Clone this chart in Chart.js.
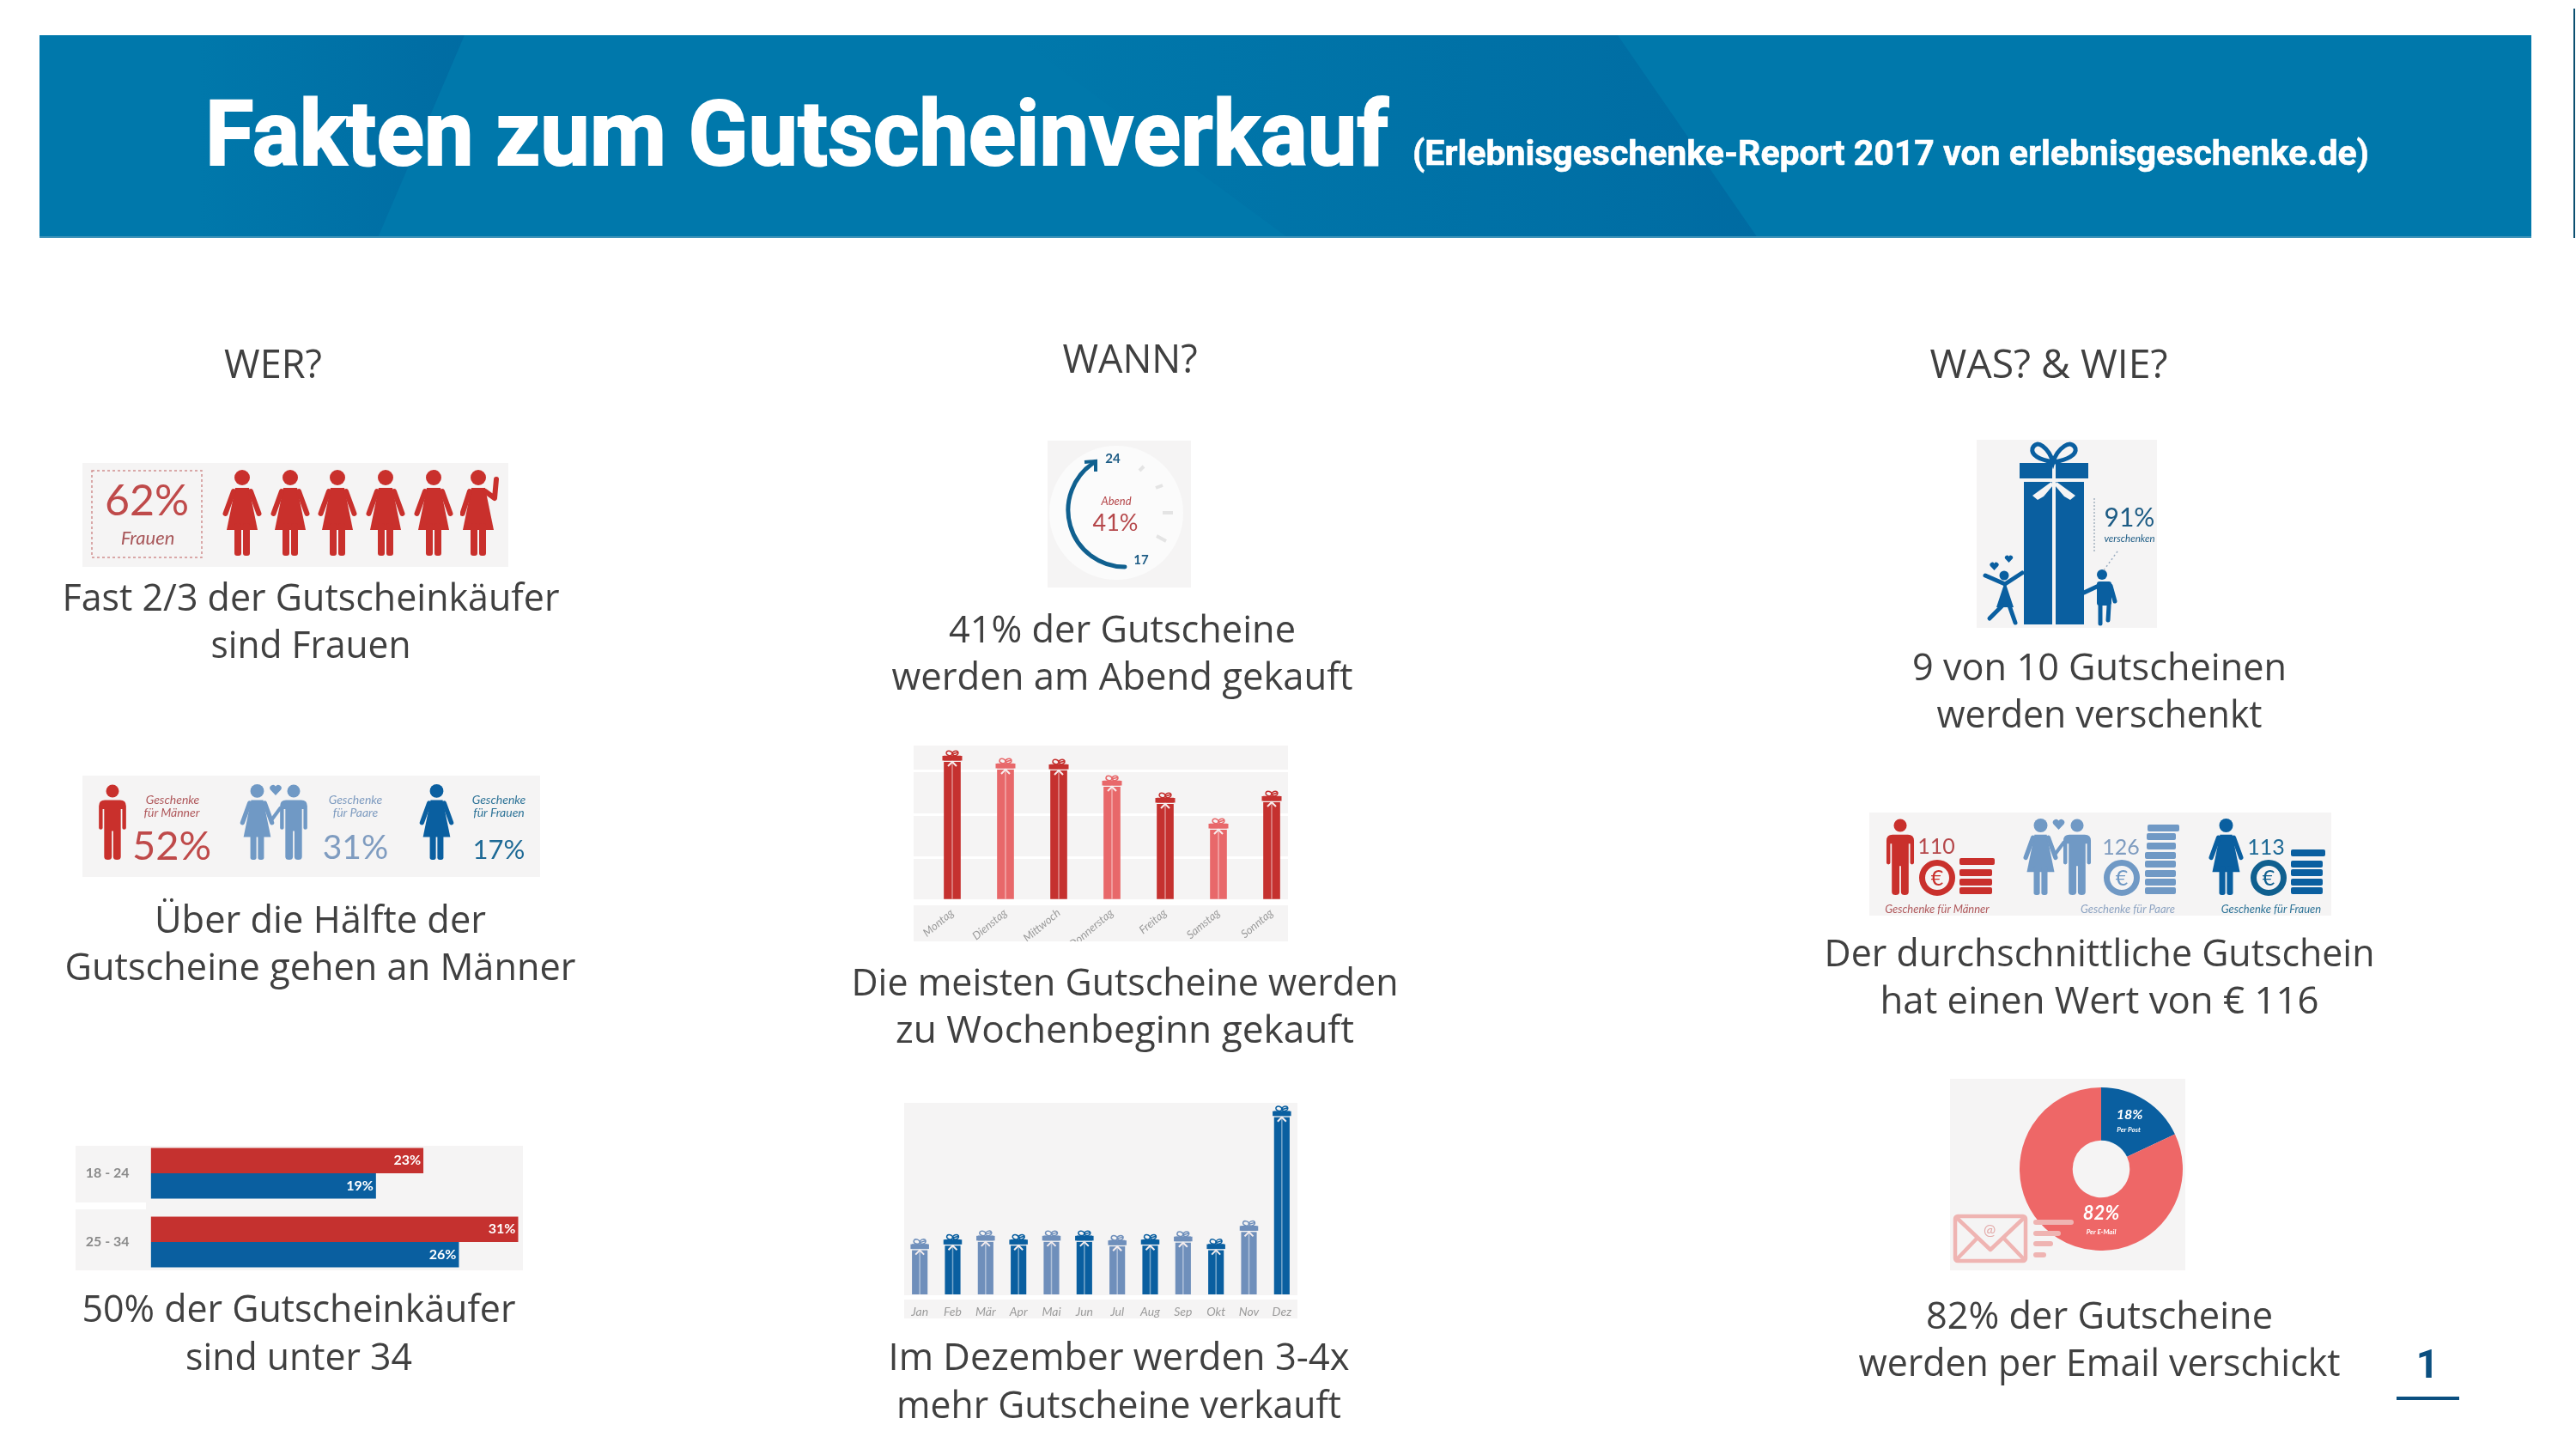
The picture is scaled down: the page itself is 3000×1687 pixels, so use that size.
<!DOCTYPE html>
<html lang="de">
<head>
<meta charset="UTF-8">
<title>Fakten zum Gutscheinverkauf</title>
<script src="https://cdn.jsdelivr.net/npm/chart.js"></script>
<style>
    html, body { margin: 0; padding: 0; background: #fff; }
    body { position: relative; width: 3000px; height: 1687px; overflow: hidden; font-family: "Lato", sans-serif; }
    .panel { position: absolute; background: #f5f4f4; }
    .strip { position: absolute; background: #fff; }
    canvas { position: absolute; }
    #bild { position: absolute; left: 0; top: 0; }
    .cap { font-family: "Open Sans", sans-serif; font-size: 44px; fill: #404040; text-anchor: middle; }
    .head { font-family: "Open Sans", sans-serif; font-size: 45px; fill: #404040; text-anchor: middle; }
    .m { text-anchor: middle; font-family: "Lato", sans-serif; }
    .i { font-style: italic; }
</style>
</head>
<body>
<!-- Hintergrundflaechen der Grafiken -->
<div class="panel" style="left:96px;top:539px;width:496px;height:121px"></div>
<div class="panel" style="left:96px;top:903px;width:533px;height:118px"></div>
<div class="panel" style="left:88px;top:1334px;width:521px;height:145px"></div>
<div class="strip" style="left:88px;top:1400px;width:82px;height:8px"></div>
<div class="panel" style="left:1220px;top:513px;width:167px;height:171px"></div>
<div class="panel" style="left:1064px;top:868px;width:436px;height:228px"></div>
<div class="strip" style="left:1064px;top:1050px;width:436px;height:4px"></div>
<div class="panel" style="left:1053px;top:1284px;width:458px;height:251px"></div>
<div class="strip" style="left:1053px;top:1508px;width:458px;height:5px"></div>
<div class="panel" style="left:2302px;top:512px;width:210px;height:219px"></div>
<div class="panel" style="left:2177px;top:946px;width:538px;height:120px"></div>
<div class="panel" style="left:2271px;top:1256px;width:274px;height:223px"></div>

<canvas id="alter" width="535" height="160" style="left:74px;top:1326px"></canvas>
<canvas id="wochentage" width="448" height="228" style="left:1064px;top:868px"></canvas>
<canvas id="monate" width="460" height="251" style="left:1052px;top:1284px"></canvas>
<canvas id="versand" width="190" height="190" style="left:2352px;top:1266px"></canvas>

<svg id="bild" width="3000" height="1687" viewBox="0 0 3000 1687" xmlns="http://www.w3.org/2000/svg">
    <defs>
        <linearGradient id="schatten1" x1="0" x2="1" y1="0" y2="0">
            <stop offset="0" stop-color="#005a96" stop-opacity="0"/>
            <stop offset="1" stop-color="#005a96" stop-opacity=".4"/>
        </linearGradient>
        <linearGradient id="schatten2" x1="0" x2="1" y1="0" y2="0">
            <stop offset="0" stop-color="#005a96" stop-opacity="0"/>
            <stop offset=".75" stop-color="#005a96" stop-opacity=".28"/>
            <stop offset="1" stop-color="#005a96" stop-opacity=".42"/>
        </linearGradient>
        <symbol id="mann" viewBox="0 0 40 100">
            <circle cx="20" cy="9" r="8.5" fill="currentColor"/>
            <path fill="currentColor" d="M10 21H30Q38 21 38 29V58Q38 60 35.5 60Q33 60 33 58V33H31V96Q31 100 26 100Q21 100 21 96V62H19V96Q19 100 14 100Q9 100 9 96V33H7V58Q7 60 4.5 60Q2 60 2 58V29Q2 21 10 21Z"/>
        </symbol>
        <symbol id="frau" viewBox="0 0 46 100">
            <circle cx="23" cy="9" r="9" fill="currentColor"/>
            <path fill="currentColor" d="M15 21H31L41 70H5Z"/>
            <path stroke="currentColor" stroke-width="6" stroke-linecap="round" fill="none" d="M13 25L3.5 51M33 25L42.5 51"/>
            <rect x="14" y="62" width="8" height="38" rx="3" fill="currentColor"/>
            <rect x="24" y="62" width="8" height="38" rx="3" fill="currentColor"/>
        </symbol>
        <symbol id="winkt" viewBox="0 0 46 100">
            <circle cx="21" cy="9" r="9" fill="currentColor"/>
            <path fill="currentColor" d="M13 21H29L39 70H3Z"/>
            <path stroke="currentColor" stroke-width="6" stroke-linecap="round" stroke-linejoin="round" fill="none" d="M11 25L2.5 51M29 25L40 33L42 11"/>
            <rect x="12" y="62" width="8" height="38" rx="3" fill="currentColor"/>
            <rect x="22" y="62" width="8" height="38" rx="3" fill="currentColor"/>
        </symbol>
        <symbol id="herz" viewBox="0 0 20 18">
            <path fill="currentColor" d="M10 18L1.5 9A5 5 0 0 1 10 3.5A5 5 0 0 1 18.5 9Z"/>
        </symbol>
    </defs>

    <!-- Kopfzeile -->
    <rect x="46" y="41" width="2902" height="236" fill="#0078ab"/>
    <polygon points="230,41 541,41 440,277 230,277" fill="url(#schatten1)"/>
    <polygon points="1180,41 1884,41 2047,277 1500,277" fill="url(#schatten2)"/>
    <rect x="46" y="275" width="2902" height="2" fill="#3d92b8"/>
    <rect x="2997" y="10" width="2" height="267" fill="#0b4f70"/>
    <text x="239" y="192" textLength="1378" lengthAdjust="spacingAndGlyphs" font-family="Roboto" font-weight="700" font-size="105" fill="#fff" stroke="#fff" stroke-width="2">Fakten zum Gutscheinverkauf</text>
    <text x="1645" y="192" textLength="1114" lengthAdjust="spacingAndGlyphs" font-family="Roboto" font-weight="700" font-size="41" fill="#fff" stroke="#fff" stroke-width=".6">(Erlebnisgeschenke-Report 2017 von erlebnisgeschenke.de)</text>

    <text class="head" x="318" y="440">WER?</text>
    <text class="head" x="1316" y="434">WANN?</text>
    <text class="head" x="2386" y="440" textLength="277" lengthAdjust="spacingAndGlyphs">WAS? &amp; WIE?</text>

    <!-- 62 % Frauen -->
    <rect x="107" y="548" width="128" height="101" fill="none" stroke="#cf8f8f" stroke-width="1.5" stroke-dasharray="3 3"/>
    <text class="m" x="171" y="600" font-size="50" fill="#bf4a4a">62%</text>
    <text class="m i" x="172" y="634" font-size="22" fill="#a8575a">Frauen</text>
    <g style="color:#c9302c">
        <use href="#frau" x="259" y="547" width="46" height="100"/>
        <use href="#frau" x="315" y="547" width="46" height="100"/>
        <use href="#frau" x="370" y="547" width="46" height="100"/>
        <use href="#frau" x="426" y="547" width="46" height="100"/>
        <use href="#frau" x="482" y="547" width="46" height="100"/>
        <use href="#winkt" x="536" y="547" width="46" height="100"/>
    </g>

    <!-- Beschenkte -->
    <use href="#mann" x="113" y="913" width="36" height="88" style="color:#c9302c"/>
    <text class="m i" x="201" y="936" font-size="14" fill="#b0595c">Geschenke</text>
    <text class="m i" x="200" y="951" font-size="14" fill="#b0595c">für Männer</text>
    <text class="m" x="200" y="1001" font-size="47" fill="#bf4a4a">52%</text>
    <g style="color:#7099c5">
        <use href="#frau" x="279" y="913" width="41" height="88"/>
        <use href="#mann" x="324" y="913" width="36" height="88"/>
        <path d="M316 955L327 940" stroke="currentColor" stroke-width="4"/>
        <use href="#herz" x="313" y="913" width="16" height="13"/>
    </g>
    <text class="m i" x="414" y="936" font-size="14" fill="#7f9cc0">Geschenke</text>
    <text class="m i" x="414" y="951" font-size="14" fill="#7f9cc0">für Paare</text>
    <text class="m" x="414" y="1000" font-size="39" fill="#7f9cc0">31%</text>
    <use href="#frau" x="488" y="913" width="41" height="88" style="color:#0a5fa0"/>
    <text class="m i" x="581" y="936" font-size="14" fill="#2f7498">Geschenke</text>
    <text class="m i" x="581" y="951" font-size="14" fill="#2f7498">für Frauen</text>
    <text class="m" x="581" y="1000" font-size="31" fill="#1e6a96">17%</text>

    <!-- Uhr -->
    <circle cx="1300" cy="597" r="78" fill="#fbfbfb"/>
    <path d="M1332 543l-5 5M1354 565l-8 3M1366 597h-12M1358 630l-11 -6" stroke="#e4e4e4" stroke-width="4" fill="none"/>
    <path d="M1310 660A66 66 0 0 1 1275 538" stroke="#10608f" stroke-width="5" fill="none" stroke-linecap="round"/>
    <path d="M1263 538L1276 537L1276 549" stroke="#10608f" stroke-width="4" fill="none"/>
    <text class="m" x="1296" y="539" font-size="15" font-weight="700" fill="#1d5c85">24</text>
    <text class="m" x="1329" y="657" font-size="15" font-weight="700" fill="#1d5c85">17</text>
    <text class="m i" x="1300" y="588" font-size="13" fill="#b5474a">Abend</text>
    <text class="m" x="1299" y="618" font-size="27" fill="#b5474a">41%</text>

    <!-- Geschenk -->
    <g fill="#0a5fa0">
        <rect x="2352" y="539" width="38" height="18"/>
        <rect x="2394" y="539" width="38" height="18"/>
        <rect x="2357" y="561" width="33" height="166"/>
        <rect x="2394" y="561" width="33" height="166"/>
        <circle cx="2334" cy="670" r="5.5"/>
        <path d="M2335 677L2325 707H2345Z"/>
        <circle cx="2448" cy="669" r="6"/>
        <rect x="2442" y="677" width="17" height="28" rx="3"/>
        <use href="#herz" x="2317" y="654" width="11" height="10" style="color:#0a5fa0"/>
        <use href="#herz" x="2334" y="646" width="11" height="9" style="color:#0a5fa0"/>
    </g>
    <g stroke="#0a5fa0" fill="none" stroke-width="5" stroke-linecap="round">
        <path d="M2391 538C2375 535 2365 530 2367 522C2372 510 2386 522 2391 538C2396 522 2412 510 2417 522C2419 530 2407 535 2393 538"/>
        <path d="M2335 680L2312 670M2335 680L2355 667M2332 705L2317 720M2340 705L2347 725"/>
        <path d="M2444 682L2427 690M2458 682L2463 700M2446 705V726M2456 705L2455 722"/>
    </g>
    <polygon points="2389,561 2367,577 2373,582 2380,578 2391,565" fill="#f5f4f4"/>
    <polygon points="2395,561 2417,577 2411,582 2404,578 2393,565" fill="#f5f4f4"/>
    <path d="M2439 580V642" stroke="#7b8fa3" stroke-width="1" stroke-dasharray="2 2"/>
    <path d="M2466 642L2450 664" stroke="#9aacc0" stroke-width="1.5" stroke-dasharray="2 3"/>
    <text class="m" x="2480" y="613" font-size="30" fill="#1d5c85">91%</text>
    <text class="m i" x="2480" y="631" font-size="11.5" fill="#1d5c85">verschenken</text>

    <!-- Durchschnittswert -->
    <use href="#mann" x="2195" y="953" width="36" height="89" style="color:#c9302c"/>
    <text class="m" x="2255" y="994" font-size="25" fill="#b5474a">110</text>
    <g stroke="#c9302c" stroke-width="7" fill="none"><circle cx="2256" cy="1022" r="17.5"/></g>
    <text class="m" x="2256" y="1031" font-size="25" fill="#c9302c">€</text>
    <g fill="#c9302c">
        <rect x="2282" y="999" width="41" height="8" rx="2"/>
        <rect x="2282" y="1012" width="38" height="8" rx="2"/>
        <rect x="2282" y="1023" width="38" height="8" rx="2"/>
        <rect x="2282" y="1033" width="38" height="8" rx="2"/>
    </g>
    <text class="m i" x="2256" y="1063" font-size="13" fill="#b0595c">Geschenke für Männer</text>

    <g style="color:#7099c5">
        <use href="#frau" x="2356" y="953" width="41" height="89"/>
        <use href="#mann" x="2401" y="953" width="36" height="89"/>
        <path d="M2393 995L2404 980" stroke="currentColor" stroke-width="4"/>
        <use href="#herz" x="2390" y="953" width="15" height="13"/>
    </g>
    <text class="m" x="2470" y="995" font-size="25" fill="#7f9cc0">126</text>
    <g stroke="#7099c5" stroke-width="7" fill="none"><circle cx="2471" cy="1022" r="17.5"/></g>
    <text class="m" x="2471" y="1031" font-size="25" fill="#7099c5">€</text>
    <g fill="#7099c5">
        <rect x="2501" y="960" width="37" height="8" rx="2"/>
        <rect x="2500" y="970" width="34" height="8" rx="2"/>
        <rect x="2500" y="981" width="34" height="8" rx="2"/>
        <rect x="2498" y="992" width="36" height="8" rx="2"/>
        <rect x="2498" y="1002" width="36" height="8" rx="2"/>
        <rect x="2498" y="1013" width="36" height="8" rx="2"/>
        <rect x="2498" y="1023" width="36" height="8" rx="2"/>
        <rect x="2498" y="1033" width="36" height="8" rx="2"/>
    </g>
    <text class="m i" x="2478" y="1063" font-size="13" fill="#8ea4c2">Geschenke für Paare</text>

    <use href="#frau" x="2572" y="953" width="41" height="89" style="color:#0a5fa0"/>
    <text class="m" x="2639" y="995" font-size="25" fill="#1e6a96">113</text>
    <g stroke="#10608f" stroke-width="7" fill="none"><circle cx="2642" cy="1022" r="17.5"/></g>
    <text class="m" x="2642" y="1031" font-size="25" fill="#10608f">€</text>
    <g fill="#0a5fa0">
        <rect x="2668" y="989" width="40" height="8" rx="2"/>
        <rect x="2668" y="1002" width="37" height="8" rx="2"/>
        <rect x="2668" y="1012" width="37" height="8" rx="2"/>
        <rect x="2668" y="1023" width="37" height="8" rx="2"/>
        <rect x="2668" y="1033" width="37" height="8" rx="2"/>
    </g>
    <text class="m i" x="2645" y="1063" font-size="13" fill="#2f7498">Geschenke für Frauen</text>

    <!-- Kreisdiagramm Beschriftung und Umschlag -->
    <text class="m i" x="2480" y="1303" font-size="16" font-weight="700" fill="#fff">18%</text>
    <text class="m i" x="2479" y="1318" font-size="8" font-weight="700" fill="#fff">Per Post</text>
    <text class="m i" x="2447" y="1420" font-size="22" font-weight="700" fill="#fff">82%</text>
    <text class="m i" x="2447" y="1437" font-size="8" font-weight="700" fill="#fff">Per E-Mail</text>
    <g stroke="#efb4b2" stroke-width="4.5" fill="none" stroke-linejoin="round">
        <rect x="2277" y="1416" width="82" height="52" rx="3"/>
        <path d="M2279 1418L2318 1455L2357 1418M2279 1466L2303 1441M2357 1466L2333 1441"/>
    </g>
    <text class="m" x="2317" y="1438" font-size="17" fill="#e3a9a8">@</text>
    <g fill="#efb4b2">
        <rect x="2368" y="1420" width="47" height="6" rx="3"/>
        <rect x="2368" y="1433" width="32" height="6" rx="3"/>
        <rect x="2368" y="1445" width="23" height="6" rx="3"/>
        <rect x="2368" y="1458" width="15" height="6" rx="3"/>
    </g>

    <!-- Bildunterschriften -->
    <text class="cap" x="362" y="711" textLength="579" lengthAdjust="spacingAndGlyphs">Fast 2/3 der Gutscheinkäufer</text>
    <text class="cap" x="362" y="766" textLength="233" lengthAdjust="spacingAndGlyphs">sind Frauen</text>
    <text class="cap" x="373" y="1086" textLength="386" lengthAdjust="spacingAndGlyphs">Über die Hälfte der</text>
    <text class="cap" x="373" y="1141" textLength="595" lengthAdjust="spacingAndGlyphs">Gutscheine gehen an Männer</text>
    <text class="cap" x="348" y="1539" textLength="505" lengthAdjust="spacingAndGlyphs">50% der Gutscheinkäufer</text>
    <text class="cap" x="348" y="1595" textLength="264" lengthAdjust="spacingAndGlyphs">sind unter 34</text>
    <text class="cap" x="1307" y="748" textLength="404" lengthAdjust="spacingAndGlyphs">41% der Gutscheine</text>
    <text class="cap" x="1307" y="803" textLength="537" lengthAdjust="spacingAndGlyphs">werden am Abend gekauft</text>
    <text class="cap" x="1310" y="1159" textLength="637" lengthAdjust="spacingAndGlyphs">Die meisten Gutscheine werden</text>
    <text class="cap" x="1310" y="1214" textLength="534" lengthAdjust="spacingAndGlyphs">zu Wochenbeginn gekauft</text>
    <text class="cap" x="1303" y="1595" textLength="537" lengthAdjust="spacingAndGlyphs">Im Dezember werden 3-4x</text>
    <text class="cap" x="1303" y="1651" textLength="518" lengthAdjust="spacingAndGlyphs">mehr Gutscheine verkauft</text>
    <text class="cap" x="2445" y="792" textLength="436" lengthAdjust="spacingAndGlyphs">9 von 10 Gutscheinen</text>
    <text class="cap" x="2445" y="847" textLength="379" lengthAdjust="spacingAndGlyphs">werden verschenkt</text>
    <text class="cap" x="2445" y="1125" textLength="641" lengthAdjust="spacingAndGlyphs">Der durchschnittliche Gutschein</text>
    <text class="cap" x="2445" y="1180" textLength="511" lengthAdjust="spacingAndGlyphs">hat einen Wert von € 116</text>
    <text class="cap" x="2445" y="1547" textLength="404" lengthAdjust="spacingAndGlyphs">82% der Gutscheine</text>
    <text class="cap" x="2445" y="1602" textLength="561" lengthAdjust="spacingAndGlyphs">werden per Email verschickt</text>

    <text x="2827" y="1604" text-anchor="middle" font-family="Roboto" font-weight="700" font-size="46" fill="#0b4f80">1</text>
    <rect x="2791" y="1626" width="73" height="4" fill="#0b4f80"/>
</svg>

<script>
    const altersgruppen = ['18 - 24', '25 - 34'];
    const kaeuferRot = [23, 31];
    const kaeuferBlau = [19, 26];

    const tage = ['Montag', 'Dienstag', 'Mittwoch', 'Donnerstag', 'Freitag', 'Samstag', 'Sonntag'];
    const verkaufTage = [16.8, 15.9, 15.8, 13.9, 11.9, 8.9, 12.1];

    const monate = ['Jan', 'Feb', 'Mär', 'Apr', 'Mai', 'Jun', 'Jul', 'Aug', 'Sep', 'Okt', 'Nov', 'Dez'];
    const verkaufMonate = [6.6, 7.2, 7.7, 7.2, 7.7, 7.7, 7.1, 7.2, 7.6, 6.6, 9.0, 24.1];

    const versandArten = ['Per Post', 'Per E-Mail'];
    const versandAnteile = [18, 82];

    const rotDunkel = '#c5312f', rotHell = '#e8686a';
    const blauDunkel = '#0a5fa0', blauHell = '#6f8fbb';

    Chart.defaults.animation = false;
    Chart.defaults.responsive = false;
    Chart.defaults.devicePixelRatio = 1;
    Chart.defaults.font.family = 'Lato';
    Chart.defaults.plugins.legend.display = false;
    Chart.defaults.plugins.tooltip.enabled = false;

    // Achsengroesse fest, sonst verschiebt Chart.js die Balken wegen der Beschriftung
    function festeGroesse(s, breite, hoehe) {
        if (breite) s.width = breite;
        if (hoehe) s.height = hoehe;
        s.paddingTop = s.paddingBottom = s.paddingLeft = s.paddingRight = 0;
    }

    // Prozentwert innen am Balkenende
    const balkenText = {
        id: 'balkenText',
        afterDatasetsDraw(chart) {
            const ctx = chart.ctx;
            ctx.save();
            ctx.font = 'bold 16px Lato';
            ctx.fillStyle = '#fff';
            ctx.textAlign = 'right';
            ctx.textBaseline = 'middle';
            chart.data.datasets.forEach((ds, d) => {
                chart.getDatasetMeta(d).data.forEach((bar, i) => {
                    ctx.fillText(ds.data[i] + '%', bar.x - 3, bar.y);
                });
            });
            ctx.restore();
        }
    };

    // macht aus jedem Balken ein Geschenk: Deckel, Band, Schleife
    const geschenk = {
        id: 'geschenk',
        afterDatasetsDraw(chart) {
            const ctx = chart.ctx;
            const ds = chart.data.datasets[0];
            chart.getDatasetMeta(0).data.forEach((bar, i) => {
                const { x, y, base, width } = bar;
                const farbe = ds.backgroundColor[i];
                const deckel = width + 4;
                ctx.save();
                ctx.fillStyle = 'rgba(255,255,255,.45)';
                ctx.fillRect(x - 0.75, y, 1.5, base - y);
                ctx.fillStyle = '#f5f4f4';
                ctx.fillRect(x - width / 2 - 2, y + 5.5, deckel, 1.5);
                ctx.fillStyle = farbe;
                ctx.fillRect(x - deckel / 2, y, deckel, 5.5);
                // Schleife oben
                ctx.strokeStyle = farbe;
                ctx.lineWidth = 1.5;
                ctx.beginPath();
                ctx.ellipse(x - 3.5, y - 3, 3.5, 2.6, 0.3, 0, Math.PI * 2);
                ctx.ellipse(x + 3.5, y - 3, 3.5, 2.6, -0.3, 0, Math.PI * 2);
                ctx.stroke();
                // Bandenden
                ctx.strokeStyle = '#f7eeee';
                ctx.lineWidth = 2;
                ctx.beginPath();
                ctx.moveTo(x, y + 7);
                ctx.lineTo(x - 5, y + 12);
                ctx.moveTo(x, y + 7);
                ctx.lineTo(x + 5, y + 12);
                ctx.stroke();
                ctx.restore();
            });
        }
    };

    new Chart(document.getElementById('alter'), {
        type: 'bar',
        data: {
            labels: altersgruppen,
            datasets: [
                { data: kaeuferRot, backgroundColor: rotDunkel },
                { data: kaeuferBlau, backgroundColor: blauDunkel }
            ]
        },
        options: {
            indexAxis: 'y',
            layout: { padding: 0 },
            datasets: { bar: { categoryPercentage: 0.74, barPercentage: 1 } },
            scales: {
                x: { display: false, min: 0, max: 31.4 },
                y: {
                    afterFit: s => festeGroesse(s, 101.6),
                    grid: { display: false, drawTicks: false },
                    border: { display: false },
                    ticks: { crossAlign: 'center', padding: 25, color: '#8a8a8a', font: { size: 16, weight: 'bold' } }
                }
            }
        },
        plugins: [balkenText]
    });

    new Chart(document.getElementById('wochentage'), {
        type: 'bar',
        data: {
            labels: tage,
            datasets: [{
                data: verkaufTage,
                backgroundColor: tage.map((t, i) => i % 2 ? rotHell : rotDunkel),
                barThickness: 19
            }]
        },
        options: {
            layout: { padding: 0 },
            scales: {
                x: {
                    afterFit: s => festeGroesse(s, 0, 48),
                    grid: { display: false, drawTicks: false },
                    border: { display: false },
                    ticks: { autoSkip: false, minRotation: 40, maxRotation: 40, padding: 7, color: '#9b9b9b', font: { size: 13, style: 'italic' } }
                },
                y: {
                    min: 0,
                    max: 18,
                    afterFit: s => festeGroesse(s, 14),
                    afterBuildTicks: s => { s.ticks = s.ticks.filter(t => t.value % 5 === 0); },
                    grid: { color: '#fff', lineWidth: 3, tickLength: 14 },
                    border: { display: false },
                    ticks: { display: false, stepSize: 5 }
                }
            }
        },
        plugins: [geschenk]
    });

    new Chart(document.getElementById('monate'), {
        type: 'bar',
        data: {
            labels: monate,
            datasets: [{
                data: verkaufMonate,
                backgroundColor: monate.map((m, i) => i % 2 ? blauDunkel : blauHell),
                barThickness: 17.5
            }]
        },
        options: {
            layout: { padding: 0 },
            scales: {
                x: {
                    afterFit: s => festeGroesse(s, 0, 28),
                    grid: { display: false, drawTicks: false },
                    border: { display: false },
                    ticks: { autoSkip: false, maxRotation: 0, padding: 12, color: '#9b9b9b', font: { size: 14, style: 'italic' } }
                },
                y: { display: false, min: 0, max: 25.2 }
            }
        },
        plugins: [geschenk]
    });

    new Chart(document.getElementById('versand'), {
        type: 'doughnut',
        data: {
            labels: versandArten,
            datasets: [{ data: versandAnteile, backgroundColor: [blauDunkel, '#ee6767'], borderWidth: 0 }]
        },
        options: { cutout: '35%', layout: { padding: 0 } }
    });
</script>
</body>
</html>
